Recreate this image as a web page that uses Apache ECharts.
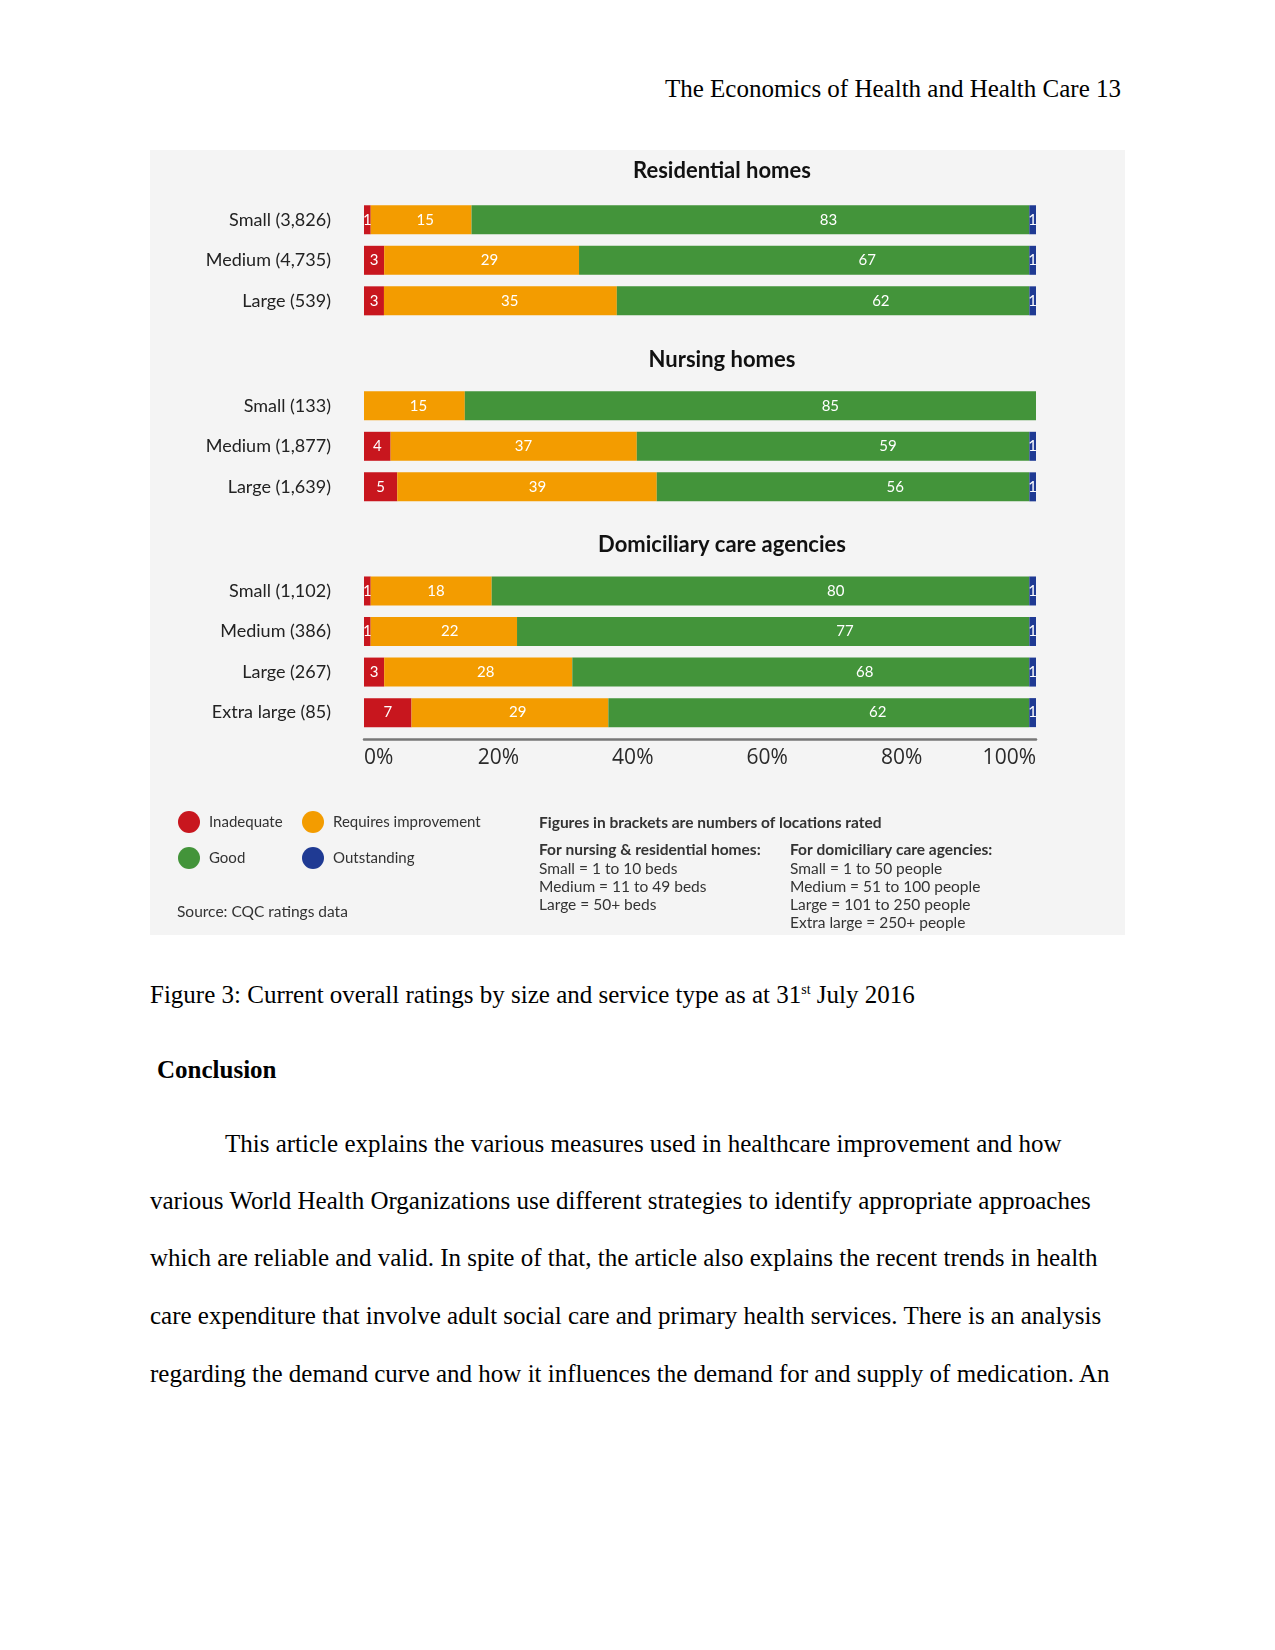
<!DOCTYPE html>
<html><head><meta charset="utf-8">
<script src="https://cdn.jsdelivr.net/npm/echarts@6/dist/echarts.min.js"></script>
<style>
body{margin:0;background:#fff;width:1275px;height:1650px;position:relative;font-family:"Liberation Serif","Times New Roman",serif;color:#000;overflow:hidden;}
.t{position:absolute;font-size:25px;line-height:30px;white-space:nowrap;}
.t sup{font-size:14px;line-height:0;vertical-align:9px;}
#chart{position:absolute;left:150px;top:150px;width:975px;height:785px;}
</style></head><body>
<div class="t" style="right:154px;top:74px">The Economics of Health and Health Care 13</div>
<div id="chart"></div>
<div class="t" style="left:150px;top:980px">Figure 3: Current overall ratings by size and service type as at 31<sup>st</sup> July 2016</div>
<div class="t" style="left:157px;top:1055px;font-weight:bold">Conclusion</div>
<div class="t" style="left:225px;top:1129px">This article explains the various measures used in healthcare improvement and how</div>
<div class="t" style="left:150px;top:1186px">various World Health Organizations use different strategies to identify appropriate approaches</div>
<div class="t" style="left:150px;top:1243px">which are reliable and valid. In spite of that, the article also explains the recent trends in health</div>
<div class="t" style="left:150px;top:1301px">care expenditure that involve adult social care and primary health services. There is an analysis</div>
<div class="t" style="left:150px;top:1359px">regarding the demand curve and how it influences the demand for and supply of medication. An</div>
<script>
// ---- data ----
const ratingNames = ['Inadequate', 'Requires improvement', 'Good', 'Outstanding'];
const sectionTitles = ['Residential homes', 'Nursing homes', 'Domiciliary care agencies'];

const resCategories = ['Small (3,826)', 'Medium (4,735)', 'Large (539)'];
const resInadequate = [1, 3, 3];
const resRequires = [15, 29, 35];
const resGood = [83, 67, 62];
const resOutstanding = [1, 1, 1];

const nurCategories = ['Small (133)', 'Medium (1,877)', 'Large (1,639)'];
const nurInadequate = [0, 4, 5];
const nurRequires = [15, 37, 39];
const nurGood = [85, 59, 56];
const nurOutstanding = [0, 1, 1];

const domCategories = ['Small (1,102)', 'Medium (386)', 'Large (267)', 'Extra large (85)'];
const domInadequate = [1, 1, 3, 7];
const domRequires = [18, 22, 28, 29];
const domGood = [80, 77, 68, 62];
const domOutstanding = [1, 1, 1, 1];

const xTickLabels = ['0%', '20%', '40%', '60%', '80%', '100%'];

const notesTitle = 'Figures in brackets are numbers of locations rated';
const notesHomesHead = 'For nursing & residential homes:';
const notesHomes = ['Small = 1 to 10 beds', 'Medium = 11 to 49 beds', 'Large = 50+ beds'];
const notesDomHead = 'For domiciliary care agencies:';
const notesDom = ['Small = 1 to 50 people', 'Medium = 51 to 100 people', 'Large = 101 to 250 people', 'Extra large = 250+ people'];
const sourceText = 'Source: CQC ratings data';

// ---- styling ----
const colors = ['#c8161e', '#f39c00', '#43943a', '#1f3a93'];
const FONT = 'Lato, "Open Sans", sans-serif';
// where the value label sits along each segment (as in the original design)
const labelPos = ['50%', '54%', '64%', '50%'];

const sections = [
  {cats: resCategories, vals: [resInadequate, resRequires, resGood, resOutstanding]},
  {cats: nurCategories, vals: [nurInadequate, nurRequires, nurGood, nurOutstanding]},
  {cats: domCategories, vals: [domInadequate, domRequires, domGood, domOutstanding]}
];
const grids = [
  {left: 214, width: 672, top: 49.5, height: 121.6},
  {left: 214, width: 672, top: 235.5, height: 121.6},
  {left: 214, width: 672, top: 420.7, height: 162.2}
];

const xAxes = [], yAxes = [], series = [];
sections.forEach((sec, gi) => {
  xAxes.push({
    gridIndex: gi, type: 'value', min: 0, max: 100, interval: 20,
    show: gi === 2, offset: 6,
    splitLine: {show: false}, axisTick: {show: false},
    axisLine: {show: true, lineStyle: {color: '#777', width: 2.5}},
    axisLabel: {
      show: true, margin: 9, fontSize: 21, color: '#2a2a2a', fontFamily: '"Open Sans", sans-serif',
      formatter: v => xTickLabels[Math.round(v / 20)],
      alignMinLabel: 'left', alignMaxLabel: 'right'
    }
  });
  yAxes.push({
    gridIndex: gi, type: 'category', inverse: true, data: sec.cats,
    axisLine: {show: false}, axisTick: {show: false}, splitLine: {show: false},
    axisLabel: {margin: 33, fontSize: 18, color: '#222', fontFamily: FONT}
  });
  const totals = sec.cats.map((c, i) => sec.vals.reduce((s, arr) => s + arr[i], 0));
  sec.vals.forEach((arr, si) => {
    series.push({
      name: ratingNames[si], type: 'bar', stack: 'sec' + gi,
      xAxisIndex: gi, yAxisIndex: gi, barWidth: 29,
      itemStyle: {color: colors[si]},
      label: {
        show: true, position: [labelPos[si], '50%'], align: 'center', verticalAlign: 'middle',
        color: '#fff', fontSize: 15, fontFamily: FONT,
        formatter: p => (p.data.raw ? String(p.data.raw) : '')
      },
      emphasis: {disabled: true},
      data: arr.map((v, i) => ({value: v / totals[i] * 100, raw: v}))
    });
  });
});

const graphic = [];
const titleY = [21, 210, 395];
sectionTitles.forEach((t, i) => graphic.push({
  type: 'text', x: 572, y: titleY[i],
  style: {text: t, fill: '#111', font: 'bold 22px ' + FONT, textAlign: 'center', textVerticalAlign: 'middle'}
}));
function note(text, x, y, bold) {
  graphic.push({type: 'text', x: x, y: y,
    style: {text: text, fill: '#333', font: (bold ? 'bold ' : '') + '15.5px ' + FONT, textAlign: 'left', textVerticalAlign: 'middle'}});
}
note(notesTitle, 389, 673, true);
note(notesHomesHead, 389, 700, true);
notesHomes.forEach((t, i) => note(t, 389, 719 + i * 18, false));
note(notesDomHead, 640, 700, true);
notesDom.forEach((t, i) => note(t, 640, 719 + i * 18, false));
note(sourceText, 27, 762, false);

const legendCommon = {
  orient: 'vertical', icon: 'circle', itemWidth: 22, itemHeight: 22, itemGap: 14, padding: 0,
  selectedMode: false,
  textStyle: {fontSize: 15, color: '#333', fontFamily: FONT, padding: [0, 0, 0, 4]}
};

const chart = echarts.init(document.getElementById('chart'), null, {renderer: 'canvas'});
chart.setOption({
  backgroundColor: '#f4f4f4',
  animation: false,
  color: colors,
  grid: grids,
  xAxis: xAxes,
  yAxis: yAxes,
  series: series,
  legend: [
    Object.assign({left: 28, top: 661, data: [ratingNames[0], ratingNames[2]]}, legendCommon),
    Object.assign({left: 152, top: 661, data: [ratingNames[1], ratingNames[3]]}, legendCommon)
  ],
  graphic: graphic
});
</script>
</body></html>
